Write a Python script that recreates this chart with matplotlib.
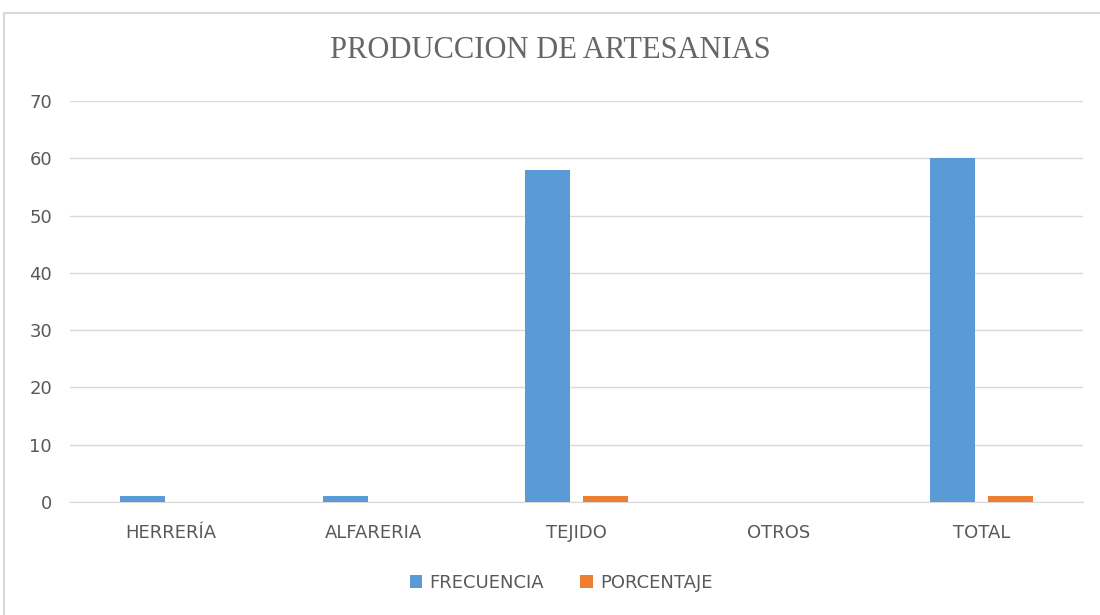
import numpy as np
import matplotlib.pyplot as plt
from matplotlib.patches import Rectangle

# Datos del grafico
categorias = ['HERRERÍA', 'ALFARERIA', 'TEJIDO', 'OTROS', 'TOTAL']
frecuencia = [1, 1, 58, 0, 60]
porcentaje = [0.0167, 0.0167, 0.9667, 0, 1]
series = ['FRECUENCIA', 'PORCENTAJE']
colores = ['#5B9BD5', '#ED7D31']
gris = '#595959'

fig = plt.figure(figsize=(11, 6.15), dpi=100)
ax = fig.add_axes([70 / 1100, 1 - 502 / 615, 1013 / 1100, 401 / 615])

x = np.arange(len(categorias))
ancho = 0.222
ax.bar(x - 0.142, frecuencia, ancho, color=colores[0], label=series[0], zorder=3)
ax.bar(x + 0.142, porcentaje, ancho, color=colores[1], label=series[1], zorder=3)

ax.set_xlim(-0.5, len(categorias) - 0.5)
ax.set_ylim(0, 70)
ax.set_yticks(range(0, 71, 10))
ax.set_xticks(x)
ax.set_xticklabels(categorias)
ax.yaxis.grid(True, color='#D9D9D9', linewidth=1, zorder=0)
for s in ['top', 'right', 'left']:
    ax.spines[s].set_visible(False)
ax.spines['bottom'].set_color('#D9D9D9')
ax.tick_params(axis='both', length=0, colors=gris, labelsize=13)
ax.tick_params(axis='x', pad=16)
ax.tick_params(axis='y', pad=13)

fig.text(0.5, 1 - 51 / 615, 'PRODUCCION DE ARTESANIAS', ha='center', va='center',
         fontsize=22, color='#666666', family='Liberation Serif')

fig.legend(loc='center', bbox_to_anchor=(0.51, 1 - 583 / 615), ncol=2, frameon=False,
           fontsize=13, handlelength=0.7, handleheight=0.7, columnspacing=2.0,
           handletextpad=0.4, labelcolor=gris)

# borde del area del grafico
fig.patches.append(Rectangle((4 / 1100, -0.01), 1.1, 1 - 13 / 615 + 0.01, transform=fig.transFigure,
                             fill=False, edgecolor='#D9D9D9', linewidth=1.5))

fig.savefig('out.png', dpi=100)
